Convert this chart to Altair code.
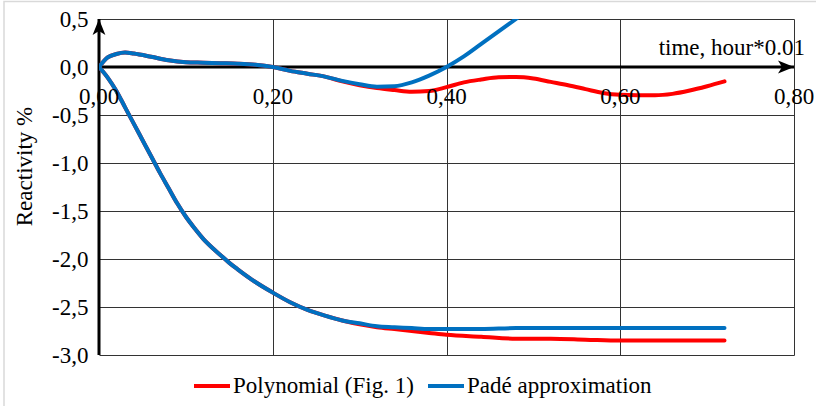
import altair as alt
import pandas as pd

# ---- data ----
t_upper = [0, 0.01, 0.02, 0.03, 0.04, 0.06, 0.08, 0.10, 0.12, 0.14, 0.16, 0.18, 0.20,
           0.22, 0.24, 0.26, 0.28, 0.30, 0.32, 0.34, 0.36, 0.38, 0.40, 0.42, 0.44, 0.46,
           0.48, 0.50, 0.52, 0.54, 0.56, 0.58, 0.60, 0.62, 0.64, 0.66, 0.68, 0.70, 0.72]
poly_upper = [0, 0.10, 0.135, 0.15, 0.14, 0.107, 0.07, 0.05, 0.045, 0.04, 0.035, 0.024, 0.0,
              -0.04, -0.07, -0.10, -0.15, -0.19, -0.22, -0.24, -0.257, -0.25, -0.21, -0.16,
              -0.13, -0.107, -0.105, -0.12, -0.155, -0.19, -0.23, -0.27, -0.29, -0.295,
              -0.295, -0.28, -0.245, -0.20, -0.15]
t_pade_upper = t_upper[:28]
pade_upper = [0, 0.10, 0.135, 0.15, 0.14, 0.107, 0.07, 0.05, 0.045, 0.04, 0.035, 0.024, 0.0,
              -0.04, -0.07, -0.10, -0.145, -0.18, -0.205, -0.20, -0.16, -0.09, 0.0, 0.11,
              0.24, 0.37, 0.50, 0.63]

t_lower = [0, 0.01, 0.02, 0.03, 0.04, 0.05, 0.06, 0.07, 0.08, 0.09, 0.10, 0.11, 0.12, 0.13,
           0.14, 0.15, 0.16, 0.18, 0.20, 0.22, 0.24, 0.26, 0.28, 0.30, 0.32, 0.34, 0.36,
           0.38, 0.40, 0.44, 0.48, 0.52, 0.56, 0.60, 0.64, 0.68, 0.72]
poly_lower = [0, -0.11, -0.25, -0.42, -0.59, -0.76, -0.93, -1.10, -1.26, -1.42, -1.56, -1.68,
              -1.79, -1.88, -1.96, -2.04, -2.11, -2.24, -2.35, -2.45, -2.53, -2.59, -2.64,
              -2.68, -2.71, -2.73, -2.75, -2.77, -2.79, -2.81, -2.83, -2.83, -2.84, -2.85,
              -2.85, -2.85, -2.85]
pade_lower = [0, -0.11, -0.25, -0.42, -0.59, -0.76, -0.93, -1.10, -1.26, -1.42, -1.56, -1.68,
              -1.79, -1.88, -1.96, -2.04, -2.11, -2.24, -2.35, -2.45, -2.53, -2.59, -2.64,
              -2.67, -2.70, -2.71, -2.72, -2.73, -2.73, -2.73, -2.72, -2.72, -2.72, -2.72,
              -2.72, -2.72, -2.72]

series_names = ["Polynomial (Fig. 1)", "Padé approximation"]
series_colors = ["#FF0000", "#0070C0"]

x_tick_values = [0.0, 0.2, 0.4, 0.6, 0.8]
x_tick_labels = ["0,00", "0,20", "0,40", "0,60", "0,80"]
y_tick_values = [0.5, 0.0, -0.5, -1.0, -1.5, -2.0, -2.5, -3.0]

x_title = "time, hour*0.01"
y_title = "Reactivity %"

FONT = "Times New Roman, Liberation Serif, serif"
FS = 23

# ---- tables ----
def mk(t, r, s, b):
    return pd.DataFrame({"t": t, "r": r, "series": s, "branch": b})

poly_df = pd.concat([mk(t_upper, poly_upper, series_names[0], "upper"),
                     mk(t_lower, poly_lower, series_names[0], "lower")])
pade_df = pd.concat([mk(t_pade_upper, pade_upper, series_names[1], "upper"),
                     mk(t_lower, pade_lower, series_names[1], "lower")])
ticks_df = pd.DataFrame({"t": x_tick_values, "r": [0.0] * 5, "label": x_tick_labels})
xaxis_df = pd.DataFrame({"t": [0.0], "t2": [0.8], "r": [0.0]})
yaxis_df = pd.DataFrame({"t": [0.0], "r": [-3.0], "r2": [0.5]})
arrow_x_df = pd.DataFrame({"t": [0.8], "r": [0.0]})
arrow_y_df = pd.DataFrame({"t": [0.0], "r": [0.5]})
xtitle_df = pd.DataFrame({"t": [0.8], "r": [0.0], "label": [x_title]})

xs = alt.Scale(domain=[0, 0.8], nice=False, zero=False)
ys = alt.Scale(domain=[-3, 0.5], nice=False, zero=False)
color = alt.Color("series:N",
                  scale=alt.Scale(domain=series_names, range=series_colors),
                  legend=alt.Legend(title=None, orient="none", direction="horizontal",
                                    legendX=93, legendY=347, padding=0,
                                    symbolType="stroke", symbolSize=1296,
                                    symbolStrokeWidth=4, labelFont=FONT,
                                    labelFontSize=FS, labelColor="black", labelLimit=0,
                                    labelOffset=1, columnPadding=6))

y_axis = alt.Axis(values=y_tick_values, grid=True, gridColor="#333", gridWidth=1,
                  domain=False, ticks=False, labelPadding=11, labelFont=FONT,
                  labelFontSize=FS, labelColor="black",
                  labelExpr="(datum.value < 0 ? '-' : '') + replace(format(abs(datum.value), '.1f'), '.', ',')",
                  title=y_title, titleFont=FONT, titleFontSize=FS, titleFontWeight="normal",
                  titleColor="black", titleX=-75, titleY=147, titleAngle=-90,
                  titleAlign="center", titleBaseline="middle")
x_axis = alt.Axis(values=[0.2, 0.4, 0.6, 0.8], grid=True, gridColor="#333", gridWidth=1,
                  domain=False, ticks=False, labels=False, title=None)

X = alt.X("t:Q", scale=xs, axis=x_axis)
Y = alt.Y("r:Q", scale=ys, axis=y_axis)

border = alt.Chart(pd.DataFrame({"a": [0]})).mark_rect(
    filled=False, stroke="#D9D9D9", strokeWidth=1.5
).encode(x=alt.value(-95), x2=alt.value(760), y=alt.value(-17.5), y2=alt.value(420))

xline = alt.Chart(xaxis_df).mark_rule(color="black", strokeWidth=3).encode(
    x=X, x2="t2:Q", y=Y)
yline = alt.Chart(yaxis_df).mark_rule(color="black", strokeWidth=3).encode(
    x=X, y=Y, y2="r2:Q")

poly = alt.Chart(poly_df).mark_line(strokeWidth=4, interpolate="monotone",
                                    strokeCap="round", clip=True).encode(
    x=X, y=Y, color=color, detail="branch:N")

pade = alt.Chart(pade_df).mark_line(strokeWidth=4, interpolate="monotone",
                                    strokeCap="round", clip=True).encode(
    x=X, y=Y, color=color, detail="branch:N")

arrow_x = alt.Chart(arrow_x_df).mark_point(
    shape="M0,0 L-2,-0.8 L-1.5,0 L-2,0.8 Z", size=256, filled=True, color="black", opacity=1
).encode(x=X, y=Y)
arrow_y = alt.Chart(arrow_y_df).mark_point(
    shape="M0,0 L-0.8,2 L0,1.5 L0.8,2 Z", size=256, filled=True, color="black", opacity=1
).encode(x=X, y=Y)

tick_text = alt.Chart(ticks_df).mark_text(
    font=FONT, fontSize=FS, color="black", align="center", baseline="middle", dy=30
).encode(x=X, y=Y, text="label:N")

xtitle = alt.Chart(xtitle_df).mark_text(
    font=FONT, fontSize=FS, color="black", align="right", baseline="middle", dx=11, dy=-19
).encode(x=X, y=Y, text="label:N")

chart = alt.layer(border, xline, yline, poly, pade, arrow_x, arrow_y, tick_text, xtitle).properties(
    width=695, height=336,
    padding={"left": 99, "top": 19, "right": 22, "bottom": 51},
    autosize=alt.AutoSizeParams(type="none"),
    background="white",
).configure_view(stroke=None)

chart.save("out.html", embed_options={"renderer": "svg", "actions": False})
